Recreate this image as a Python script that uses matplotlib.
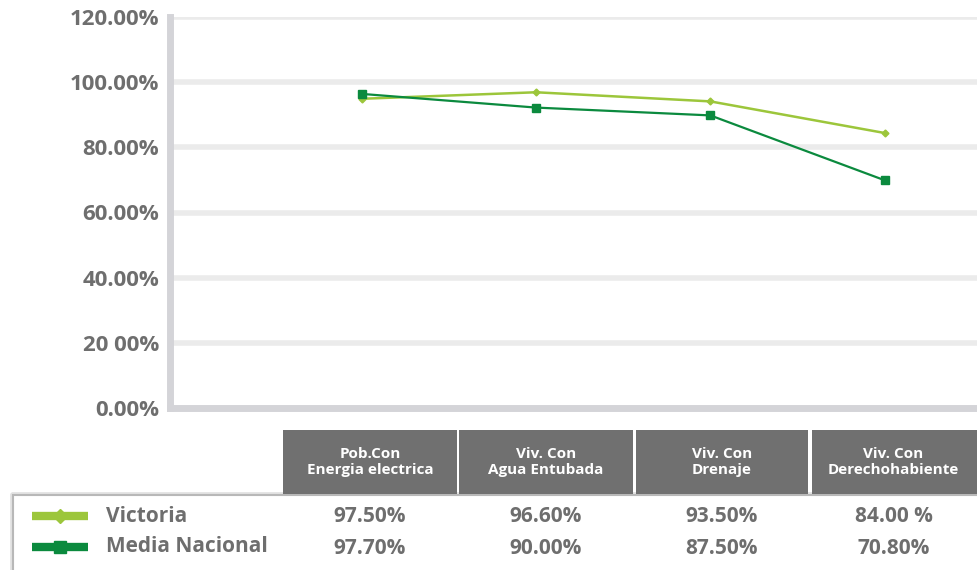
import numpy as np
import matplotlib
matplotlib.use('Agg')
import matplotlib.pyplot as plt
from matplotlib.patches import Rectangle
from matplotlib.lines import Line2D

# data
categorias = ['Pob.Con\nEnergia electrica', 'Viv. Con\nAgua Entubada',
              'Viv. Con\nDrenaje', 'Viv. Con\nDerechohabiente']
victoria = [94.9, 96.9, 94.1, 84.4]
media_nacional = [96.4, 92.2, 89.8, 69.9]
victoria_tabla = ['97.50%', '96.60%', '93.50%', '84.00 %']
media_tabla = ['97.70%', '90.00%', '87.50%', '70.80%']
series = ['Victoria', 'Media Nacional']
y_ticks = [0, 20, 40, 60, 80, 100, 120]
y_labels = ['0.00%', '20 00%', '40.00%', '60.00%', '80.00%', '100.00%', '120.00%']

verde_claro = '#9cc63b'
verde_oscuro = '#0b8a3e'
gris_txt = '#6e6e6e'
gris_grid = '#ebebeb'
gris_eje = '#d4d4d8'
gris_celda = '#707070'

plt.rcParams['font.family'] = ['Open Sans', 'DejaVu Sans']

fig = plt.figure(figsize=(9.77, 5.70), dpi=100)
W, H = 977, 570

# main plot
ax = fig.add_axes([170 / W, 1 - 408 / H, 807 / W, 391 / H])
x = np.arange(len(categorias))
ax.plot(x, victoria, color=verde_claro, lw=1.8, marker='D', ms=3.5, zorder=3)
ax.plot(x, media_nacional, color=verde_oscuro, lw=1.6, marker='s', ms=6, zorder=4)
ax.set_xlim(-1.10, 3.53)
ax.set_ylim(0, 120)
ax.set_yticks(y_ticks)
ax.set_yticklabels(y_labels)
ax.set_xticks([])
ax.tick_params(axis='y', length=0, pad=8, labelsize=16, labelcolor=gris_txt)
for t in ax.get_yticklabels():
    t.set_fontweight('bold')
for yy in y_ticks[1:]:
    ax.axhline(yy, color=gris_grid, lw=4, zorder=1)
for s in ['top', 'right']:
    ax.spines[s].set_visible(False)
ax.spines['left'].set_color(gris_eje)
ax.spines['left'].set_linewidth(5)
ax.spines['bottom'].set_color(gris_eje)
ax.spines['bottom'].set_linewidth(5)

# data table below, in pixel coordinates
tb = fig.add_axes([0, 0, 1, 1], zorder=-1)
tb.set_xlim(0, W)
tb.set_ylim(H, 0)
tb.axis('off')

# legend box with soft shadow
tb.add_patch(Rectangle((13, 495), 980, 90, facecolor='white',
                       edgecolor='#b8b8b8', lw=1.5, zorder=1))
tb.add_patch(Rectangle((11, 493), 980, 90, facecolor='none',
                       edgecolor='#e2e2e2', lw=2, zorder=0.9))

col_left = [283, 459, 636, 812]
col_right = [457, 633, 808, 985]
for i, cat in enumerate(categorias):
    l, r = col_left[i], col_right[i]
    tb.add_patch(Rectangle((l, 430), r - l, 64, facecolor=gris_celda,
                           edgecolor='none', zorder=2))
    cx = (l + r) / 2 if i < 3 else (l + W) / 2 - 1
    tb.text(cx, 462, cat, color='white', ha='center', va='center',
            fontsize=11, fontweight='bold', linespacing=1.15, zorder=3)
    tb.text(cx, 517, victoria_tabla[i], color=gris_txt, ha='center', va='center',
            fontsize=15, fontweight='bold', zorder=3)
    tb.text(cx, 548, media_tabla[i], color=gris_txt, ha='center', va='center',
            fontsize=15, fontweight='bold', zorder=3)

# legend rows
for yy, nombre, col, mk, ms in [(516, series[0], verde_claro, 'D', 7),
                                (547, series[1], verde_oscuro, 's', 9)]:
    tb.add_line(Line2D([32, 88], [yy, yy], color=col, lw=6,
                       solid_capstyle='butt', zorder=3))
    tb.add_line(Line2D([60], [yy], color=col, marker=mk, ms=ms, mec=col, zorder=3))
    tb.text(106, yy, nombre, color=gris_txt, ha='left', va='center',
            fontsize=15, fontweight='bold', zorder=3)

fig.savefig('out.png', dpi=100)
